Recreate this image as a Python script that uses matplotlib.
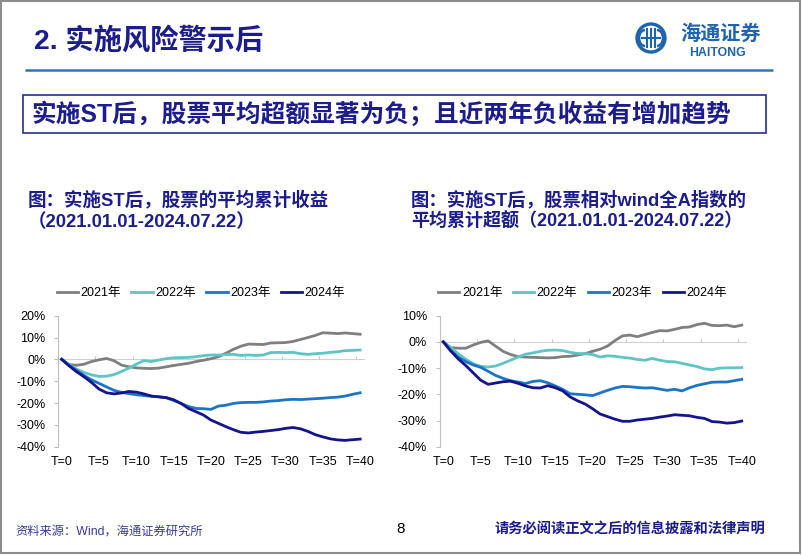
import matplotlib
matplotlib.use('Agg')
import matplotlib.pyplot as plt
from matplotlib.patches import Rectangle, Circle, Arc

plt.rcParams['font.family'] = ['Liberation Sans', 'Noto Sans CJK SC', 'DejaVu Sans']

# ---------------- data ----------------
periods = list(range(41))
x_tick_pos = list(range(0, 41, 5))
x_tick_labels = [f'T={t}' for t in x_tick_pos]
series_names = ['2021年', '2022年', '2023年', '2024年']

# left chart: average cumulative return (%)
ret_2021 = [0, -2.4, -2.7, -2.2, -1.0, -0.2, 0.4, -0.6, -2.6, -3.4, -3.9, -4.1, -4.2, -4.0, -3.4, -2.8,
            -2.3, -1.8, -1.0, -0.4, 0.3, 1.2, 2.8, 4.6, 6.0, 7.0, 6.9, 6.8, 7.5, 7.6, 7.7, 8.2, 9.1,
            10.0, 11.0, 12.2, 12.0, 11.8, 12.1, 11.8, 11.5]
ret_2022 = [0, -2.5, -4.5, -6.0, -7.1, -7.8, -7.7, -7.0, -5.6, -4.0, -2.2, -0.6, -1.0, -0.3, 0.3, 0.7,
            0.8, 0.9, 1.2, 1.7, 2.0, 2.0, 2.2, 2.3, 1.8, 2.0, 1.8, 2.0, 3.1, 3.2, 3.1, 3.2, 2.6, 2.3,
            2.6, 2.8, 3.2, 3.5, 4.0, 4.1, 4.3]
ret_2023 = [0, -2.8, -5.0, -7.4, -9.4, -11.0, -12.6, -14.2, -15.1, -15.7, -16.2, -16.6, -16.9, -17.1,
            -17.6, -18.8, -20.2, -21.6, -22.5, -22.6, -22.9, -21.4, -21.0, -20.2, -19.8, -19.7, -19.7,
            -19.5, -19.1, -18.9, -18.5, -18.3, -18.4, -18.2, -18.0, -17.8, -17.5, -17.3, -16.8, -16.0, -15.3]
ret_2024 = [0, -3.0, -5.7, -8.0, -10.6, -13.6, -15.3, -15.8, -15.4, -14.7, -15.0, -15.8, -16.8, -17.2,
            -17.5, -18.5, -20.2, -22.5, -24.0, -25.5, -27.8, -29.3, -30.8, -32.2, -33.4, -33.7, -33.3,
            -33.0, -32.6, -32.2, -31.6, -31.2, -31.8, -33.0, -34.5, -35.5, -36.4, -36.9, -37.1, -36.8, -36.5]

# right chart: average cumulative excess vs wind All A (%)
exc_2021 = [0, -2.2, -2.4, -2.4, -1.2, -0.2, 0.4, -1.6, -3.6, -4.8, -5.6, -5.8, -5.9, -6.0, -6.1, -6.0,
            -5.6, -5.5, -5.0, -4.5, -3.6, -2.8, -1.6, 0.5, 2.3, 2.6, 2.0, 2.8, 3.6, 4.3, 4.2, 4.8, 5.5,
            5.7, 6.6, 7.1, 6.3, 6.2, 6.4, 5.8, 6.4]
exc_2022 = [0, -2.2, -4.5, -6.6, -8.3, -9.3, -9.6, -9.2, -8.2, -7.0, -5.8, -4.7, -4.2, -3.6, -3.2, -3.1,
            -3.3, -4.0, -4.4, -4.5, -4.8, -5.8, -5.3, -5.5, -5.9, -6.2, -6.7, -7.0, -6.3, -7.0, -7.5,
            -7.6, -8.2, -8.8, -9.4, -10.3, -10.6, -10.0, -9.9, -9.9, -9.8]
exc_2023 = [0, -3.2, -5.8, -7.5, -8.8, -9.7, -11.2, -12.8, -13.9, -14.8, -15.3, -15.9, -15.1, -14.8,
            -15.6, -16.8, -18.1, -19.8, -20.0, -20.2, -20.5, -19.5, -18.5, -17.6, -17.0, -17.1, -17.4,
            -17.6, -17.5, -18.0, -18.5, -18.1, -18.7, -17.5, -16.6, -16.0, -15.4, -15.3, -15.3, -14.8, -14.3]
exc_2024 = [0, -3.5, -6.5, -9.0, -11.8, -14.6, -16.2, -15.7, -15.2, -15.0, -15.8, -16.8, -17.5, -17.6,
            -16.7, -17.5, -18.7, -21.0, -22.5, -23.7, -25.5, -27.5, -28.5, -29.5, -30.3, -30.3, -29.8,
            -29.5, -29.2, -28.7, -28.3, -27.8, -28.0, -28.2, -28.8, -29.2, -30.4, -30.6, -31.0, -30.8, -30.2]

left_yticks = [-40, -30, -20, -10, 0, 10, 20]
right_yticks = [-40, -30, -20, -10, 0, 10]

colors = ['#7F7F7F', '#5EC4C4', '#1B75C4', '#14148C']
NAVY = '#1C1C8C'

# ---------------- figure ----------------
W, H = 802, 555
fig = plt.figure(figsize=(W / 100, H / 100), dpi=100)

bg = fig.add_axes([0, 0, 1, 1])
bg.set_xlim(0, W)
bg.set_ylim(H, 0)
bg.axis('off')

# slide frame
bg.add_patch(Rectangle((0.8, 0.8), 799, 552.5, fill=False, ec='#8C8C8C', lw=1.5))

# header
bg.text(34, 41, '2. 实施风险警示后', fontsize=20.3, fontweight='bold', color=NAVY, va='center', ha='left')
bg.plot([25, 773], [69.5, 69.5], color='#2E75B6', lw=1.8, solid_capstyle='butt')

# logo
LB = '#1F64AE'
bg.add_patch(Circle((651, 38), 14, fill=False, ec=LB, lw=2.4))
bg.add_patch(Arc((645, 38), 12, 16, theta1=90, theta2=270, ec=LB, lw=1.8))
bg.add_patch(Arc((657, 38), 12, 16, theta1=-90, theta2=90, ec=LB, lw=1.8))
for xv in (647, 651, 655):
    bg.plot([xv, xv], [29, 47], color=LB, lw=1.5)
bg.plot([642, 660], [38, 38], color=LB, lw=1.5)
bg.text(680, 34, '海通证券', fontsize=14.5, fontweight='bold', color=LB, va='center', ha='left')
bg.text(717, 53, 'HAITONG', fontsize=8.8, fontweight='bold', color=LB, va='center', ha='center')

# boxed headline
bg.add_patch(Rectangle((23, 95), 743, 37.5, fill=False, ec='#2B2B8F', lw=1.2))
bg.text(31, 114.5, '实施ST后，股票平均超额显著为负；且近两年负收益有增加趋势', fontsize=17.8,
        fontweight='bold', color=NAVY, va='center', ha='left')

# chart titles
TFS = 13.3
bg.text(28, 200, '图：实施ST后，股票的平均累计收益', fontsize=TFS, fontweight='bold', color=NAVY,
        va='center', ha='left')
bg.text(28, 222, '（2021.01.01-2024.07.22）', fontsize=TFS, fontweight='bold', color=NAVY,
        va='center', ha='left')
bg.text(411, 200, '图：实施ST后，股票相对wind全A指数的', fontsize=13.2, fontweight='bold', color=NAVY,
        va='center', ha='left')
bg.text(411, 222, '平均累计超额（2021.01.01-2024.07.22）', fontsize=13.0, fontweight='bold', color=NAVY,
        va='center', ha='left')

# footer
bg.text(15, 532, '资料来源：Wind，海通证券研究所', fontsize=8.8, color='#3A3A9A', va='center', ha='left')
bg.text(400.5, 529, '8', fontsize=11, color='black', va='center', ha='center')
bg.text(495, 529, '请务必阅读正文之后的信息披露和法律声明', fontsize=10.3, fontweight='bold', color=NAVY,
        va='center', ha='left')


def px2fig(x, y):
    return x / W, 1 - y / H


def make_chart(left_px, data, yticks):
    x0, y_top = px2fig(left_px, 315.7)
    _, y_bot = px2fig(left_px, 446.7)
    ax = fig.add_axes([x0, y_bot, 305.9 / W, y_top - y_bot])
    ax.set_facecolor('none')
    for name, vals, c in zip(series_names, data, colors):
        ax.plot(periods, vals, color=c, lw=2.0, label=name, solid_joinstyle='round')
    ax.set_xlim(-0.5, 40.5)
    ax.set_ylim(yticks[0], yticks[-1])
    ax.set_yticks(yticks)
    ax.set_yticklabels([f'{v}%' for v in yticks])
    ax.tick_params(axis='y', direction='out', length=3, width=0.8, color='#BFBFBF',
                   labelsize=9, pad=6)
    for s in ('top', 'right'):
        ax.spines[s].set_visible(False)
    ax.spines['left'].set_color('#BFBFBF')
    ax.spines['left'].set_linewidth(0.8)
    ax.spines['bottom'].set_position(('data', 0))
    ax.spines['bottom'].set_color('#D0D0D0')
    ax.spines['bottom'].set_linewidth(0.8)
    ax.spines['bottom'].set_zorder(0.5)
    ax.set_xticks([4.5 + 5 * k for k in range(8)])
    ax.set_xticklabels([])
    ax.tick_params(axis='x', direction='in', length=2.5, width=0.8, color='#C8C8C8')
    sec = ax.secondary_xaxis('bottom')
    sec.set_xticks(x_tick_pos)
    sec.set_xticklabels(x_tick_labels)
    sec.tick_params(length=0, pad=7, labelsize=9)
    sec.spines['bottom'].set_visible(False)
    lx, ly = px2fig(left_px - 1.5, 293.3)
    ax.legend(ncol=4, loc='center left', bbox_to_anchor=(lx, ly), bbox_transform=fig.transFigure,
              frameon=False, fontsize=9, handlelength=1.7, handletextpad=0.2, columnspacing=0.85,
              borderpad=0, borderaxespad=0)
    return ax


make_chart(58.0, [ret_2021, ret_2022, ret_2023, ret_2024], left_yticks)
make_chart(439.6, [exc_2021, exc_2022, exc_2023, exc_2024], right_yticks)

fig.savefig('out.png', dpi=100)
